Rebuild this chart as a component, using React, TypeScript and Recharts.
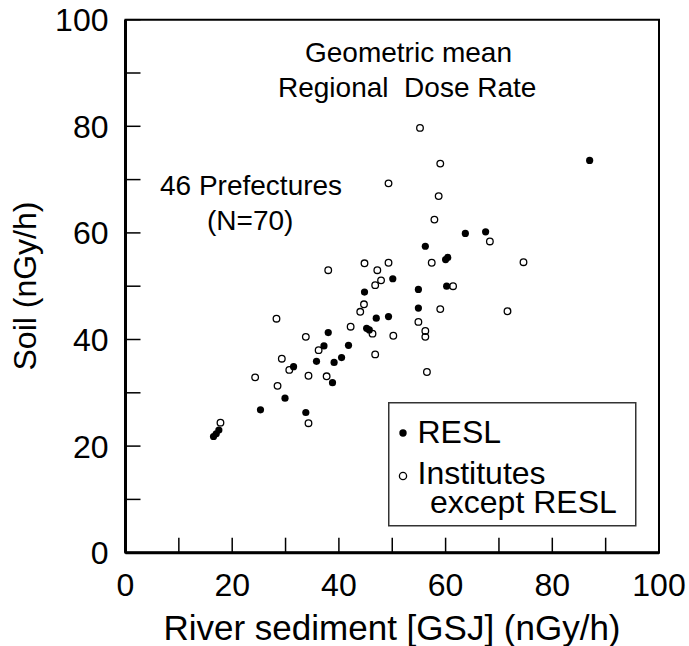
import React from 'react';
import { ScatterChart, Scatter, XAxis, YAxis, ReferenceArea, Legend } from 'recharts';

// axis ticks every 10, labels every 20
const AXIS_TICKS = [0, 10, 20, 30, 40, 50, 60, 70, 80, 90, 100];

// RESL (filled dots): river sediment vs soil, nGy/h
const RESL_SEDIMENT = [87, 67.5, 63.7, 56.2, 60.4, 60.0, 54.9, 60.2, 54.9, 50.1, 44.8, 49.3, 47.0, 45.2, 45.7, 38.0, 37.2, 41.8, 40.5, 39.1, 38.8, 35.8, 31.5, 29.9, 25.3, 33.8, 16.5, 17.0, 17.5];
const RESL_SOIL = [73.6, 60.2, 59.9, 57.5, 55.4, 55.0, 49.4, 50.0, 45.9, 51.4, 48.9, 44.3, 44.0, 42.1, 41.8, 41.3, 38.8, 38.9, 36.6, 35.7, 31.9, 35.9, 34.9, 29.0, 26.8, 26.3, 21.8, 22.3, 23.0];

// Institutes except RESL (open dots)
const INST_SEDIMENT = [55.2, 59.0, 49.3, 58.7, 57.9, 68.3, 57.4, 74.6, 61.4, 59.0, 71.6, 54.9, 56.2, 56.2, 56.5, 38.0, 44.8, 47.2, 49.3, 47.9, 46.8, 44.7, 44.0, 42.2, 46.3, 50.2, 46.8, 37.7, 28.3, 33.8, 29.3, 24.3, 28.5, 34.3, 30.7, 36.2, 34.3, 17.8];
const INST_SOIL = [79.7, 73.0, 69.3, 66.9, 62.5, 58.4, 54.4, 54.5, 50.0, 45.7, 45.3, 43.3, 41.6, 40.5, 33.9, 53.0, 54.3, 53.0, 54.4, 51.1, 50.2, 46.6, 45.2, 42.4, 41.1, 40.7, 37.2, 33.1, 43.9, 40.5, 36.4, 32.9, 31.3, 33.2, 34.3, 38.0, 24.3, 24.4];

const FONT = '"Liberation Sans", Arial, sans-serif';

const reslData = RESL_SEDIMENT.map((x, i) => ({ x, y: RESL_SOIL[i] }));
const instData = INST_SEDIMENT.map((x, i) => ({ x, y: INST_SOIL[i] }));

const FilledDot = (p: any) => <circle cx={p.cx} cy={p.cy} r={3.6} fill="#000" />;
const OpenDot = (p: any) => <circle cx={p.cx} cy={p.cy} r={3.3} fill="none" stroke="#000" strokeWidth={1.3} />;

// inward tick marks, labels on every 20
const XTick = (props: any) => {
    const { x, y, payload } = props;
    const v = payload.value;
    return (
        <g>
            <line x1={x} x2={x} y1={y} y2={y - 15} stroke="#000" strokeWidth={1.5} />
            {v % 20 === 0 && (
                <text x={x} y={y + 43} textAnchor="middle" fontSize={32} fontFamily={FONT} fill="#000">{v}</text>
            )}
        </g>
    );
};

const YTick = (props: any) => {
    const { x, y, payload } = props;
    const v = payload.value;
    return (
        <g>
            <line x1={x} x2={x + 15} y1={y} y2={y} stroke="#000" strokeWidth={1.5} />
            {v % 20 === 0 && (
                <text x={x - 17} y={y + 11.5} textAnchor="end" fontSize={32} fontFamily={FONT} fill="#000">{v}</text>
            )}
        </g>
    );
};

const LegendBox = () => (
    <svg width={249} height={125} style={{ display: 'block' }}>
        <rect x={0.75} y={0.75} width={247} height={123} fill="#fff" stroke="#333" strokeWidth={1.5} />
        <circle cx={15} cy={31} r={3.7} fill="#000" />
        <text x={29.5} y={41} fontSize={32} fontFamily={FONT}>RESL</text>
        <circle cx={15} cy={74} r={3.6} fill="none" stroke="#000" strokeWidth={1.3} />
        <text x={29.5} y={82} fontSize={32} fontFamily={FONT}>Institutes</text>
        <text x={42} y={111} fontSize={32} fontFamily={FONT}>except RESL</text>
    </svg>
);

export default function App() {
    return (
        <div style={{ position: 'absolute', left: 0, top: 0, width: 689, height: 646, background: '#fff' }}>
            <ScatterChart
                width={689}
                height={646}
                margin={{ top: 19.7, right: 30, bottom: 33.3, left: 65.5 }}
            >
                <ReferenceArea x1={0} x2={100} y1={0} y2={100} fill="none" stroke="#000" strokeWidth={2} ifOverflow="visible" />
                <XAxis
                    type="number"
                    dataKey="x"
                    domain={[0, 100]}
                    ticks={AXIS_TICKS}
                    interval={0}
                    height={60}
                    tickSize={0}
                    tickMargin={0}
                    tickLine={false}
                    axisLine={{ stroke: '#000', strokeWidth: 3 }}
                    tick={<XTick />}
                />
                <YAxis
                    type="number"
                    dataKey="y"
                    domain={[0, 100]}
                    ticks={AXIS_TICKS}
                    interval={0}
                    width={60}
                    tickSize={0}
                    tickMargin={0}
                    tickLine={false}
                    axisLine={{ stroke: '#000', strokeWidth: 3 }}
                    tick={<YTick />}
                />
                <Scatter name="Institutes except RESL" data={instData} shape={<OpenDot />} isAnimationActive={false} />
                <Scatter name="RESL" data={reslData} shape={<FilledDot />} isAnimationActive={false} />
                <Legend
                    layout="vertical"
                    align="center"
                    verticalAlign="middle"
                    content={() => <LegendBox />}
                    wrapperStyle={{ position: 'absolute', left: 388, top: 402, width: 249, height: 125 }}
                />
            </ScatterChart>

            {/* annotations and axis titles */}
            <svg width={689} height={646} style={{ position: 'absolute', left: 0, top: 0, pointerEvents: 'none' }}>
                <g fontFamily={FONT} fill="#000">
                    <text x={305} y={62} fontSize={28}>Geometric mean</text>
                    <text x={278} y={97} fontSize={28} style={{ whiteSpace: 'pre' }}>Regional  Dose Rate</text>
                    <text x={160} y={195} fontSize={28}>46 Prefectures</text>
                    <text x={207} y={230} fontSize={28}>(N=70)</text>
                    <text x={392} y={640} fontSize={35} textAnchor="middle">River sediment [GSJ] (nGy/h)</text>
                    <text x={36} y={286} fontSize={32} textAnchor="middle" transform="rotate(-90 36 286)">Soil (nGy/h)</text>
                </g>
            </svg>
        </div>
    );
}
